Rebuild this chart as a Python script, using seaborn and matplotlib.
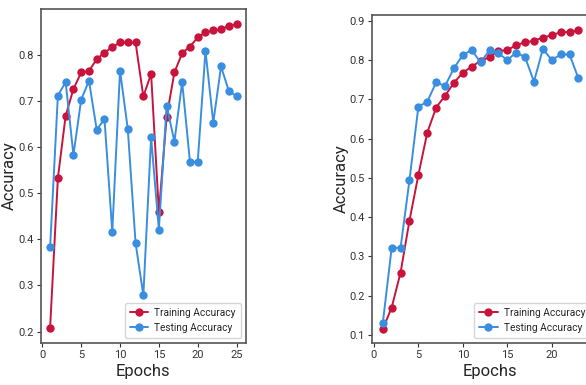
import matplotlib
matplotlib.use("Agg")
import matplotlib.pyplot as plt
import seaborn as sns
import pandas as pd

sns.set_style("ticks")
plt.rcParams['font.family'] = ['Roboto', 'DejaVu Sans']

epochs_a = list(range(1, 26))
train_a = [0.208, 0.533, 0.668, 0.726, 0.762, 0.765, 0.791, 0.805, 0.817, 0.827,
           0.827, 0.827, 0.710, 0.759, 0.459, 0.666, 0.762, 0.804, 0.818, 0.838,
           0.849, 0.853, 0.856, 0.863, 0.867]
test_a = [0.383, 0.712, 0.741, 0.583, 0.703, 0.744, 0.638, 0.661, 0.416, 0.766,
          0.639, 0.392, 0.279, 0.621, 0.421, 0.690, 0.612, 0.741, 0.568, 0.568,
          0.809, 0.653, 0.775, 0.722, 0.710]

epochs_b = list(range(1, 24))
train_b = [0.115, 0.170, 0.259, 0.391, 0.507, 0.615, 0.679, 0.709, 0.742, 0.768,
           0.783, 0.798, 0.807, 0.823, 0.825, 0.838, 0.845, 0.849, 0.857, 0.863,
           0.871, 0.871, 0.876]
test_b = [0.130, 0.322, 0.322, 0.494, 0.681, 0.694, 0.743, 0.734, 0.779, 0.813,
          0.825, 0.794, 0.825, 0.817, 0.800, 0.819, 0.807, 0.745, 0.828, 0.800,
          0.814, 0.814, 0.753]

labels = ["Training Accuracy", "Testing Accuracy"]
colors = ["#C8143C", "#3A8EE0"]
xticks_a = [0, 5, 10, 15, 20, 25]
xticks_b = [0, 5, 10, 15, 20]

fig = plt.figure(figsize=(5.86, 3.85), dpi=100)
ax1 = fig.add_axes([0.0696, 0.109, 0.350, 0.868])
ax2 = fig.add_axes([0.635, 0.109, 0.4007, 0.852])

def draw(ax, ep, tr, te, xticks, xlim=None, anchor=(1.0, 0.0)):
    df = pd.DataFrame({"Epochs": ep * 2, "Accuracy": tr + te,
                       "series": [labels[0]] * len(ep) + [labels[1]] * len(ep)})
    sns.lineplot(data=df, x="Epochs", y="Accuracy", hue="series",
                 palette=colors, marker="o", markersize=6, markeredgewidth=0,
                 linewidth=1.4, ax=ax)
    for s in ax.spines.values():
        s.set_color("#555555")
        s.set_linewidth(1.2)
    ax.tick_params(labelsize=8, colors="#333333", length=3, pad=2)
    ax.set_xlabel("Epochs", fontsize=12, labelpad=3)
    ax.set_ylabel("Accuracy", fontsize=12, labelpad=1)
    ax.set_xticks(xticks)
    if xlim:
        ax.set_xlim(*xlim)
    leg = ax.legend(loc="lower right", bbox_to_anchor=anchor, fontsize=7.3,
                    frameon=True, handlelength=1.8, borderpad=0.5,
                    labelspacing=0.5, handletextpad=0.6)
    leg.get_frame().set_edgecolor("#cccccc")

draw(ax1, epochs_a, train_a, test_a, xticks_a)
ax1.set_yticks([0.2, 0.3, 0.4, 0.5, 0.6, 0.7, 0.8])
draw(ax2, epochs_b, train_b, test_b, xticks_b, xlim=(-0.2, 26.2), anchor=(0.95, 0.0))
ax2.set_ylim(0.0796, 0.9145)
ax2.set_yticks([0.1, 0.2, 0.3, 0.4, 0.5, 0.6, 0.7, 0.8, 0.9])

fig.savefig("out.png", dpi=100)
